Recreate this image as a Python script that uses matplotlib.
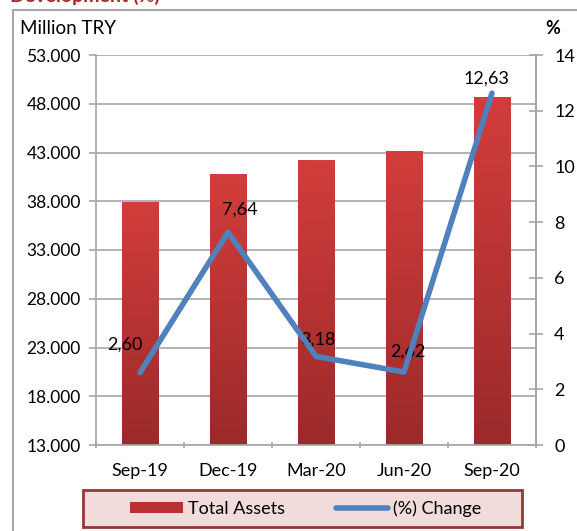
import numpy as np
import matplotlib.pyplot as plt
from matplotlib.patches import Rectangle
from matplotlib.lines import Line2D
from matplotlib.colors import LinearSegmentedColormap

plt.rcParams['font.family'] = ['Lato', 'DejaVu Sans']

periods = ['Sep-19', 'Dec-19', 'Mar-20', 'Jun-20', 'Sep-20']
total_assets = [37900, 40800, 42200, 43150, 48700]
pct_change = [2.60, 7.64, 3.18, 2.62, 12.63]
left_ticks = [13000, 18000, 23000, 28000, 33000, 38000, 43000, 48000, 53000]
right_ticks = [0, 2, 4, 6, 8, 10, 12, 14]

W, H = 577, 531
fig = plt.figure(figsize=(W / 100, H / 100), dpi=100)

# outer frame and clipped title
fig.patches.append(Rectangle((13 / W, -0.01), 1.0, 1 - 10 / H + 0.01, transform=fig.transFigure,
                             fill=False, ec='#a6a6a6', lw=1.5))
fig.text(10 / W, 1 + 4 / H, 'Development (%)', color='#a32a2a', fontsize=14, fontweight='bold',
         va='center', ha='left')
fig.text(20 / W, 1 - 28 / H, 'Million TRY', fontsize=13.5, va='center', ha='left')
fig.text(553 / W, 1 - 28 / H, '%', fontsize=13, fontweight='bold', va='center', ha='center')

ax = fig.add_axes([96 / W, 86 / H, 440 / W, 390 / H])
x = np.arange(len(periods))
bw = 0.42

ax.set_yticks(left_ticks)
ax.set_yticklabels([f'{v:,}'.replace(',', '.') for v in left_ticks])
ax.yaxis.grid(True, color='#a6a6a6', lw=1.2)
ax.set_axisbelow(True)

# gradient bars
grad = np.linspace(0, 1, 256).reshape(-1, 1)
cmap = LinearSegmentedColormap.from_list('red', ['#9b2a2a', '#d33d3b'])
for xi, v in zip(x, total_assets):
    bar = ax.bar(xi, v - 13000, bw, bottom=13000, color='none', ec='none')[0]
    im = ax.imshow(grad, extent=(xi - bw / 2, xi + bw / 2, 13000, v), origin='lower',
                   cmap=cmap, aspect='auto', zorder=2)
    im.set_clip_path(bar)
ax.set_xlim(-0.5, len(periods) - 0.5)
ax.set_ylim(13000, 53000)

ax.set_xticks(x)
ax.set_xticklabels(periods)
ax.set_xticks(np.arange(-0.5, len(periods)), minor=True)
ax.tick_params(axis='x', which='major', length=0, pad=13, labelsize=13)
ax.tick_params(axis='x', which='minor', length=5, direction='inout', color='#a6a6a6', width=1.2)
ax.tick_params(axis='y', length=5, direction='out', color='#a6a6a6', width=1.2, labelsize=12.5, pad=6)
for s in ax.spines.values():
    s.set_color('#a6a6a6')
    s.set_linewidth(1.2)
ax.spines['top'].set_visible(False)

ax2 = ax.twinx()
ax2.set_ylim(0, 14)
ax2.set_yticks(right_ticks)
ax2.plot(x, pct_change, color='#4f81bd', lw=4, solid_capstyle='round', zorder=5)
ax2.tick_params(axis='y', length=10, direction='inout', color='#a6a6a6', width=1.2, labelsize=13, pad=8)
for s in ax2.spines.values():
    s.set_visible(False)
ax2.spines['right'].set_visible(True)
ax2.spines['right'].set_color('#a6a6a6')
ax2.spines['right'].set_linewidth(1.2)

offsets = [(-15, 28), (12, 23), (2, 17), (4, 20), (-6, 15)]
for xi, v, (dx, dy) in zip(x, pct_change, offsets):
    ax2.annotate(f'{v:.2f}'.replace('.', ','), (xi, v), xytext=(dx, dy), textcoords='offset pixels',
                 ha='center', va='center', fontsize=13)

# legend box
fig.patches.append(Rectangle((83 / W, 4 / H), 439 / W, 37 / H, transform=fig.transFigure,
                             fc='#f2dcdb', ec='#953735', lw=2))
handles = [Rectangle((0, 0), 1, 1, fc='#b83232', ec='none'),
           Line2D([], [], color='#4f81bd', lw=4, solid_capstyle='round')]
fig.legend(handles, ['Total Assets', '(%) Change'], loc='center', bbox_to_anchor=(306 / W, 22.5 / H),
           ncol=2, frameon=False, fontsize=13, handlelength=2.9, handleheight=0.5,
           columnspacing=2.8, handletextpad=0.3)

fig.savefig('out.png', dpi=100)
